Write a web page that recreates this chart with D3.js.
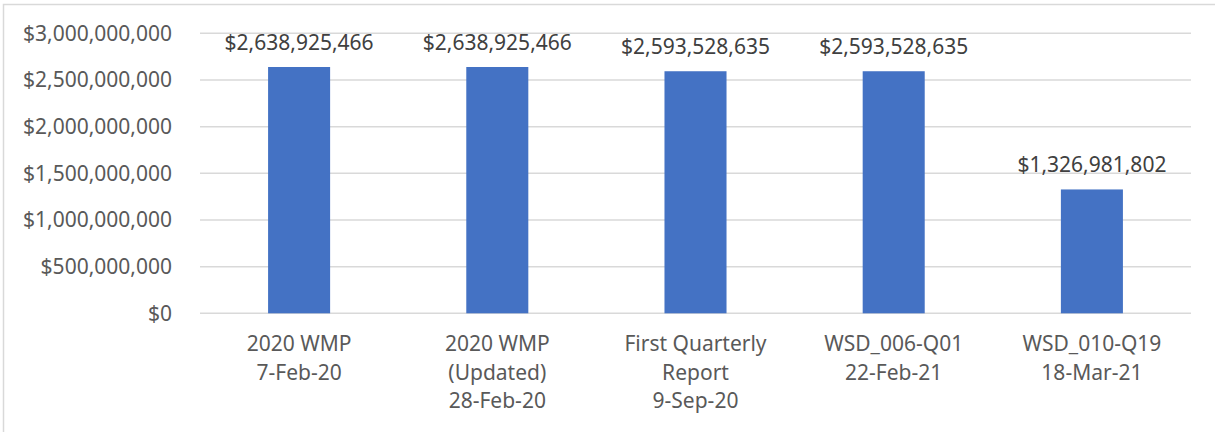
<!DOCTYPE html>
<html>
<head>
<meta charset="utf-8">
<script src="https://cdn.jsdelivr.net/npm/d3@7"></script>
<style>
  body { margin: 0; background: #fff; }
  text { font-family: "Noto Sans", "Open Sans", sans-serif; }
</style>
</head>
<body>
<div id="chart"></div>
<script>
// chart data
const categories = [
    ["2020 WMP", "7-Feb-20"],
    ["2020 WMP", "(Updated)", "28-Feb-20"],
    ["First Quarterly", "Report", "9-Sep-20"],
    ["WSD_006-Q01", "22-Feb-21"],
    ["WSD_010-Q19", "18-Mar-21"]
];
const values = [2638925466, 2638925466, 2593528635, 2593528635, 1326981802];
const yTicks = [0, 500000000, 1000000000, 1500000000, 2000000000, 2500000000, 3000000000];

const WIDTH = 1215, HEIGHT = 432;
const MARGIN = { LEFT: 200, RIGHT: 24, TOP: 33.3, BOTTOM: 118.7 };
const innerW = WIDTH - MARGIN.LEFT - MARGIN.RIGHT;
const innerH = HEIGHT - MARGIN.TOP - MARGIN.BOTTOM;
const FONT = "21px";

const svg = d3.select("#chart").append("svg")
    .attr("width", WIDTH)
    .attr("height", HEIGHT);

// outer chart border
svg.append("rect")
    .attr("x", 3.5).attr("y", 4.5)
    .attr("width", WIDTH).attr("height", HEIGHT)
    .attr("fill", "none")
    .attr("stroke", "#d9d9d9")
    .attr("stroke-width", 1.5);

const g = svg.append("g")
    .attr("transform", `translate(${MARGIN.LEFT}, ${MARGIN.TOP})`);

const x = d3.scaleBand()
    .domain(d3.range(categories.length))
    .range([0, innerW])
    .paddingInner(0.687)
    .paddingOuter(0.3435);

const y = d3.scaleLinear()
    .domain([0, 3000000000])
    .range([innerH, 0]);

const fmt = v => "$" + d3.format(",")(v);

// gridlines
g.selectAll("line.grid")
    .data(yTicks)
    .enter().append("line")
    .attr("class", "grid")
    .attr("x1", 0).attr("x2", innerW)
    .attr("y1", d => y(d)).attr("y2", d => y(d))
    .attr("stroke", "#d9d9d9")
    .attr("stroke-width", 1.5);

// y axis labels
const yAxis = g.append("g")
    .call(d3.axisLeft(y).tickValues(yTicks).tickFormat(fmt).tickSize(0).tickPadding(28));
yAxis.select(".domain").remove();
yAxis.selectAll("text")
    .attr("fill", "#595959")
    .style("font-size", FONT)
    .style("font-family", "'Noto Sans', sans-serif");

// bars
g.selectAll("rect.bar")
    .data(values)
    .enter().append("rect")
    .attr("class", "bar")
    .attr("x", (d, i) => x(i))
    .attr("width", x.bandwidth())
    .attr("y", d => y(d))
    .attr("height", d => innerH - y(d))
    .attr("fill", "#4472c4");

// data labels
g.selectAll("text.value")
    .data(values)
    .enter().append("text")
    .attr("class", "value")
    .attr("x", (d, i) => x(i) + x.bandwidth() / 2)
    .attr("y", d => y(d) - 17)
    .attr("text-anchor", "middle")
    .attr("fill", "#404040")
    .style("font-size", FONT)
    .text(fmt);

// category labels
g.selectAll("text.cat")
    .data(categories)
    .enter().append("text")
    .attr("class", "cat")
    .attr("text-anchor", "middle")
    .attr("fill", "#595959")
    .style("font-size", FONT)
    .each(function(lines, i) {
        d3.select(this).selectAll("tspan")
            .data(lines)
            .enter().append("tspan")
            .attr("x", x(i) + x.bandwidth() / 2)
            .attr("y", (d, j) => innerH + 38 + j * 28.3)
            .text(d => d);
    });
</script>
</body>
</html>
